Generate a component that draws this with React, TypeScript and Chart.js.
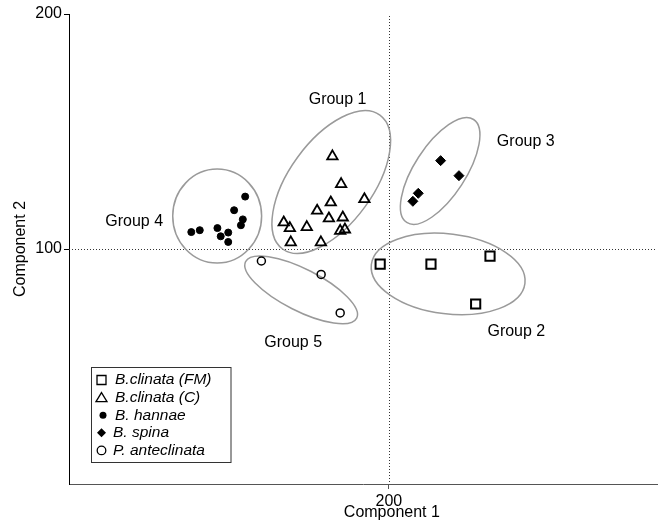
import React, { useEffect, useRef } from 'react';
import { Chart, registerables } from 'chart.js';

Chart.register(...registerables);

const FONT = "'Liberation Sans', Arial, Helvetica, sans-serif";

// ---- data ----
const seriesNames = ['B.clinata (FM)', 'B.clinata (C)', 'B. hannae', 'B. spina', 'P. anteclinata'];

const fmX = [196.3, 217.9, 243.0, 236.9];
const fmY = [93.6, 93.6, 97.0, 76.6];

const cX = [176.0, 179.7, 189.6, 175.3, 169.5, 174.5, 180.4, 155.3, 157.9, 165.1, 179.3, 181.3, 158.3, 171.1];
const cY = [139.4, 127.6, 121.2, 119.8, 116.3, 113.0, 113.4, 111.3, 108.9, 109.3, 107.7, 108.3, 102.8, 102.8];

const hannaeX = [116.0, 119.6, 127.1, 128.5, 131.7, 131.7, 134.2, 137.1, 137.9, 138.9];
const hannaeY = [107.2, 108.0, 108.9, 105.4, 107.0, 103.0, 116.5, 110.1, 112.6, 122.3];

const spinaX = [222.0, 229.8, 212.5, 210.2];
const spinaY = [137.6, 131.2, 123.7, 120.3];

const anteX = [145.8, 171.2, 179.3];
const anteY = [94.9, 89.2, 72.8];

const xTicks = [200];
const yTicks = [100, 200];
const xMin = 64;
const xMax = 314;
const yMin = 0;
const yMax = 200;
const refX = 200;
const refY = 100;

const xTitle = 'Component 1';
const yTitle = 'Component 2';

// group enclosures (data units)
const groupNames = ['Group 1', 'Group 2', 'Group 3', 'Group 4', 'Group 5'];
const groupLabelX = [178.2, 254.2, 258.2, 91.7, 159.3];
const groupLabelY = [163.4, 64.7, 145.5, 111.5, 60.0];
const ellipseCX = [175.5, 225.2, 221.8, 127.0, 162.7];
const ellipseCY = [128.5, 89.4, 133.2, 114.0, 82.6];
const ellipseA = [35.2, 32.9, 26.1, 18.9, 26.5];
const ellipseB = [17.8, 17.0, 10.9, 20.0, 8.9];
const ellipseAngle = [-54, 7, -57, 0, 27];

const toPts = (xs: number[], ys: number[]) => xs.map((v, i) => ({ x: v, y: ys[i] }));

function drawLegendMarker(ctx: CanvasRenderingContext2D, kind: number, x: number, y: number) {
  ctx.save();
  ctx.strokeStyle = '#000';
  ctx.fillStyle = '#000';
  ctx.lineWidth = 1.3;
  ctx.beginPath();
  if (kind === 0) {
    ctx.rect(x - 4.5, y - 4.5, 9, 9);
    ctx.stroke();
  } else if (kind === 1) {
    ctx.moveTo(x, y - 5);
    ctx.lineTo(x + 5.5, y + 4);
    ctx.lineTo(x - 5.5, y + 4);
    ctx.closePath();
    ctx.stroke();
  } else if (kind === 2) {
    ctx.arc(x + 1.5, y, 3.5, 0, Math.PI * 2);
    ctx.fill();
  } else if (kind === 3) {
    ctx.moveTo(x, y - 4.5);
    ctx.lineTo(x + 4.5, y);
    ctx.lineTo(x, y + 4.5);
    ctx.lineTo(x - 4.5, y);
    ctx.closePath();
    ctx.fill();
  } else {
    ctx.arc(x, y, 4.3, 0, Math.PI * 2);
    ctx.stroke();
  }
  ctx.restore();
}

const overlay = {
  id: 'overlay',
  beforeDatasetsDraw(chart: any) {
    const { ctx, chartArea: ca, scales } = chart;
    const x = scales.x;
    const y = scales.y;
    ctx.save();
    ctx.strokeStyle = '#333';
    ctx.lineWidth = 1;
    ctx.setLineDash([1, 2]);
    const px = Math.round(x.getPixelForValue(refX)) + 0.5;
    const py = Math.round(y.getPixelForValue(refY)) + 0.5;
    ctx.beginPath();
    ctx.moveTo(px, ca.top + 2);
    ctx.lineTo(px, ca.bottom);
    ctx.stroke();
    ctx.beginPath();
    ctx.moveTo(ca.left, py);
    ctx.lineTo(ca.right, py);
    ctx.stroke();
    ctx.setLineDash([]);

    ctx.strokeStyle = '#9a9a9a';
    ctx.lineWidth = 1.5;
    for (let i = 0; i < ellipseCX.length; i++) {
      const cx = x.getPixelForValue(ellipseCX[i]);
      const cy = y.getPixelForValue(ellipseCY[i]);
      const rx = Math.abs(x.getPixelForValue(ellipseCX[i] + ellipseA[i]) - cx);
      const ry = Math.abs(y.getPixelForValue(ellipseCY[i] + ellipseB[i]) - cy);
      ctx.beginPath();
      ctx.ellipse(cx, cy, rx, ry, (ellipseAngle[i] * Math.PI) / 180, 0, Math.PI * 2);
      ctx.stroke();
    }
    ctx.restore();
  },
  afterDatasetsDraw(chart: any) {
    const { ctx, chartArea: ca, scales } = chart;
    const x = scales.x;
    const y = scales.y;
    ctx.save();
    ctx.fillStyle = '#000';
    ctx.font = `16px ${FONT}`;
    ctx.textAlign = 'center';
    ctx.textBaseline = 'middle';
    for (let i = 0; i < groupNames.length; i++) {
      ctx.fillText(groupNames[i], x.getPixelForValue(groupLabelX[i]), y.getPixelForValue(groupLabelY[i]));
    }
    // axis titles
    ctx.fillText(xTitle, x.getPixelForValue(refX) + 3, ca.bottom + 29);
    ctx.save();
    ctx.translate(21, (ca.top + ca.bottom) / 2);
    ctx.rotate(-Math.PI / 2);
    ctx.fillText(yTitle, 0, 0);
    ctx.restore();

    // legend box
    const bx = 91.5;
    const by = 367.5;
    const bw = 139.5;
    const bh = 95;
    ctx.fillStyle = '#fff';
    ctx.fillRect(bx, by, bw, bh);
    ctx.strokeStyle = '#333';
    ctx.lineWidth = 1;
    ctx.strokeRect(bx, by, bw, bh);
    ctx.fillStyle = '#000';
    ctx.font = `italic 15.5px ${FONT}`;
    ctx.textAlign = 'left';
    ctx.textBaseline = 'middle';
    const rowStep = 17.6;
    for (let i = 0; i < seriesNames.length; i++) {
      const ry = by + 12.5 + i * rowStep;
      drawLegendMarker(ctx, i, 101.5, ry);
      ctx.fillText(seriesNames[i], i < 3 ? 115 : 113, ry);
    }
    ctx.restore();
  },
};

export default function App() {
  const ref = useRef<HTMLCanvasElement | null>(null);
  useEffect(() => {
    if (!ref.current) return;
    const chart = new Chart(ref.current, {
      type: 'scatter',
      data: {
        datasets: [
          {
            label: seriesNames[0],
            data: toPts(fmX, fmY),
            pointStyle: 'rect',
            pointRadius: 6.5,
            pointBorderWidth: 2,
            pointBorderColor: '#000',
            pointBackgroundColor: 'rgba(255,255,255,0)',
          },
          {
            label: seriesNames[1],
            data: toPts(cX, cY),
            pointStyle: 'triangle',
            pointRadius: 6,
            pointBorderWidth: 1.8,
            pointBorderColor: '#000',
            pointBackgroundColor: 'rgba(255,255,255,0)',
          },
          {
            label: seriesNames[2],
            data: toPts(hannaeX, hannaeY),
            pointStyle: 'circle',
            pointRadius: 3.5,
            pointBorderWidth: 1,
            pointBorderColor: '#000',
            pointBackgroundColor: '#000',
          },
          {
            label: seriesNames[3],
            data: toPts(spinaX, spinaY),
            pointStyle: 'rectRot',
            pointRadius: 5,
            pointBorderWidth: 1,
            pointBorderColor: '#000',
            pointBackgroundColor: '#000',
          },
          {
            label: seriesNames[4],
            data: toPts(anteX, anteY),
            pointStyle: 'circle',
            pointRadius: 4,
            pointBorderWidth: 1.5,
            pointBorderColor: '#000',
            pointBackgroundColor: 'rgba(255,255,255,0)',
          },
        ],
      },
      options: {
        animation: false,
        responsive: true,
        maintainAspectRatio: false,
        layout: { autoPadding: false, padding: { top: 14, right: 4, left: 0, bottom: 0 } },
        plugins: { legend: { display: false }, tooltip: { enabled: false } },
        scales: {
          x: {
            type: 'linear',
            min: xMin,
            max: xMax,
            afterBuildTicks: (s: any) => {
              s.ticks = xTicks.map((v) => ({ value: v }));
            },
            afterFit: (s: any) => {
              s.height = 48;
              s.paddingLeft = 0;
              s.paddingRight = 0;
            },
            grid: { display: true, drawOnChartArea: false, tickLength: 5, color: '#555' },
            border: { display: true, color: '#555', width: 1 },
            ticks: { color: '#000', padding: 3, font: { family: FONT, size: 16 }, maxRotation: 0 },
          },
          y: {
            type: 'linear',
            min: yMin,
            max: yMax,
            afterBuildTicks: (s: any) => {
              s.ticks = yTicks.map((v) => ({ value: v }));
            },
            afterFit: (s: any) => {
              s.width = 69;
            },
            grid: { display: true, drawOnChartArea: false, tickLength: 5, color: '#000' },
            border: { display: true, color: '#000', width: 1 },
            ticks: { color: '#000', padding: 2, font: { family: FONT, size: 16 } },
          },
        },
      },
      plugins: [overlay],
    });
    return () => chart.destroy();
  }, []);
  return (
    <div style={{ position: 'fixed', left: 0, top: 0, width: 661, height: 532, background: '#fff' }}>
      <canvas ref={ref} />
    </div>
  );
}
